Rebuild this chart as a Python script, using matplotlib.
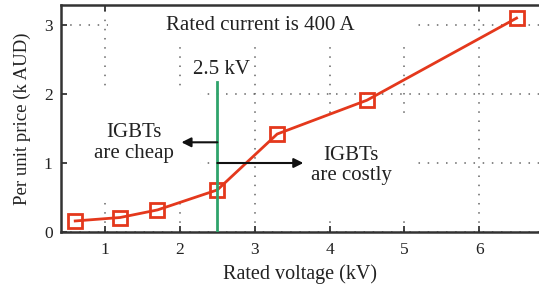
import matplotlib
matplotlib.use("Agg")
import matplotlib.pyplot as plt
from matplotlib.patches import Rectangle

voltage_kv = [0.6, 1.2, 1.7, 2.5, 3.3, 4.5, 6.5]
price_kaud = [0.16, 0.21, 0.32, 0.61, 1.42, 1.91, 3.10]
threshold_kv = 2.5
xticks = [1, 2, 3, 4, 5, 6]
yticks = [0, 1, 2, 3]

plt.rcParams['font.family'] = ['Liberation Serif', 'DejaVu Serif']
txt = '#222222'

fig = plt.figure(figsize=(5.39, 2.88), dpi=100)
ax = fig.add_axes([61/539, 1 - 232/288, 1 - 61/539, (232 - 5)/288])
ax.set_xlim(0.41, 6.8)
ax.set_ylim(0, 3.29)
ax.set_xticks(xticks)
ax.set_yticks(yticks)
ax.tick_params(direction='in', top=True, right=False, length=4, width=1.2,
               labelsize=12.5, colors=txt, pad=7)
ax.tick_params(axis='y', pad=6)
for s in ['left', 'bottom', 'top']:
    ax.spines[s].set_linewidth(1.8)
    ax.spines[s].set_color('#333333')
ax.spines['right'].set_visible(False)
ax.grid(True, color='#666666', linestyle=(0, (1, 5)), linewidth=1.1)
ax.set_axisbelow(True)

# white masks behind the text blocks (hide the grid as in the original)
for (x0, y0, w, h) in [(1.04, 2.78, 4.11, 0.6), (0.51, 0.46, 1.76, 1.64), (3.62, 0.25, 1.55, 1.45)]:
    ax.add_patch(Rectangle((x0, y0), w, h, facecolor='white', edgecolor='none', zorder=1.5))

ax.plot(voltage_kv, price_kaud, color='#e4381c', linewidth=2, marker='s',
        markersize=10.5, markerfacecolor='none', markeredgewidth=2,
        markeredgecolor='#e4381c', zorder=6)
ax.plot([threshold_kv, threshold_kv], [0, 2.17], color='#2fa36b', linewidth=2, zorder=6)

ax.annotate('', xy=(2.02, 1.3), xytext=(threshold_kv, 1.3),
            arrowprops=dict(arrowstyle='-|>', color='#111111', lw=1.5,
                            mutation_scale=14, shrinkA=0, shrinkB=0), zorder=6)
ax.annotate('', xy=(3.65, 1.0), xytext=(threshold_kv, 1.0),
            arrowprops=dict(arrowstyle='-|>', color='#111111', lw=1.5,
                            mutation_scale=14, shrinkA=0, shrinkB=0), zorder=6)

ax.text(3.08, 3.0, 'Rated current is 400 A', ha='center', va='center',
        fontsize=15, color=txt, zorder=3)
ax.text(2.55, 2.35, '2.5 kV', ha='center', va='center', fontsize=15, color=txt, zorder=3)
ax.text(1.38, 1.29, 'IGBTs\nare cheap', ha='center', va='center', fontsize=15,
        color=txt, linespacing=1.1, zorder=3)
ax.text(4.29, 0.96, 'IGBTs\nare costly', ha='center', va='center', fontsize=15,
        color=txt, linespacing=1.1, zorder=3)

ax.set_xlabel('Rated voltage (kV)', fontsize=14.5, color=txt, labelpad=5)
ax.set_ylabel('Per unit price (k AUD)', fontsize=13.5, color=txt, labelpad=9)

fig.savefig('out.png', dpi=100)
